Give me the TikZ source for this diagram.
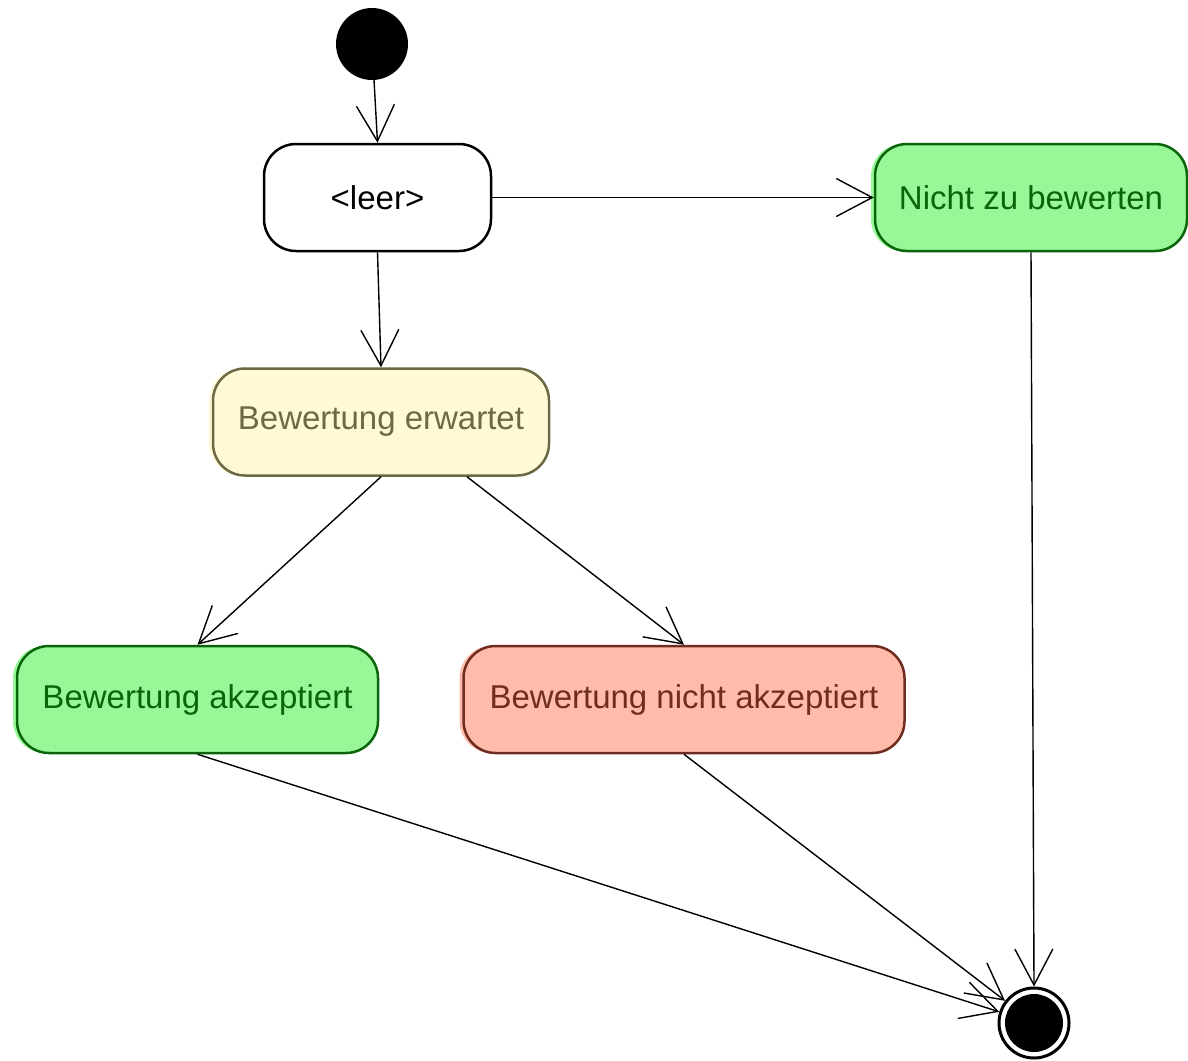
\documentclass[tikz,border=0pt]{standalone}
\usepackage{fontspec}
\setmainfont{Liberation Sans}
\usetikzlibrary{arrows.meta}
\definecolor{gfill}{RGB}{152,248,152}
\definecolor{gtext}{RGB}{10,100,10}
\definecolor{yfill}{RGB}{255,249,214}
\definecolor{ytext}{RGB}{107,105,70}
\definecolor{rfill}{RGB}{255,188,170}
\definecolor{rtext}{RGB}{110,45,32}
\tikzset{
  state/.style={rectangle, rounded corners=32pt, line width=2.5pt, align=center,
    minimum height=107pt, inner sep=0pt, font=\fontsize{33}{40}\selectfont},
  offfill/.style={preaction={fill=#1, transform canvas={xshift=-4pt}}, fill=#1},
  conn/.style={line width=1.4pt, -{Straight Barb[length=36pt, width=38pt, line width=1.4pt]}},
}
\begin{document}
\begin{tikzpicture}[x=1pt,y=-1pt]
\useasboundingbox (0,0) rectangle (1188,1060);
\node[circle, fill=black, minimum size=72pt, inner sep=0pt] (start) at (372,44) {};
\node[state, draw=black, fill=white, minimum width=227pt] (leer) at (377.5,197.5) {<leer>};
\node[state, draw=gtext, text=gtext, offfill=gfill, minimum width=312pt] (nzb) at (1031,197.5) {Nicht zu bewerten};
\node[state, draw=ytext, text=ytext, offfill=yfill, minimum width=336pt] (erw) at (381,422) {Bewertung erwartet};
\node[state, draw=gtext, text=gtext, offfill=gfill, minimum width=361pt] (akz) at (197.5,699.5) {Bewertung akzeptiert};
\node[state, draw=rtext, text=rtext, offfill=rfill, minimum width=441pt] (nakz) at (684,699.5) {Bewertung nicht akzeptiert};
\node[circle, draw=black, line width=3pt, fill=white, minimum size=70pt, inner sep=0pt] (end) at (1034,1023) {};
\fill[black] (end.center) circle (29);
\draw[conn] (start) -- (leer.north);
\draw[conn] (leer.east) -- (nzb.west);
\draw[conn] (leer.south) -- (erw.north);
\draw[conn] (erw.south) -- (akz.north);
\draw[conn] ([xshift=86pt]erw.south) -- (nakz.north);
\draw[conn] (akz.south) -- (end);
\draw[conn] (nakz.south) -- (end);
\draw[conn] (nzb.south) -- (end.north);
\end{tikzpicture}
\end{document}
